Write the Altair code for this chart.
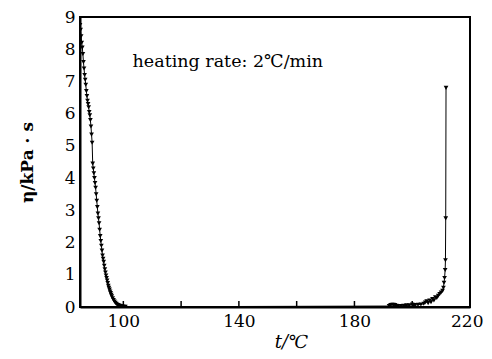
import altair as alt
import pandas as pd

# left branch (viscosity drop while heating)
t_left = [85.0, 85.2, 85.4, 85.6, 85.8, 86.0, 86.2, 86.4, 86.6, 86.8, 87.0, 87.2, 87.4, 87.6, 87.8,
          88.0, 88.2, 88.4, 88.6, 88.8, 89.0, 89.2, 89.4, 89.6, 89.8, 90.0, 90.2, 90.4, 90.6, 90.8,
          91.0, 91.2, 91.4, 91.6, 91.8, 92.0, 92.2, 92.4, 92.6, 92.8, 93.0, 93.2, 93.4, 93.6, 93.8,
          94.0, 94.2, 94.4, 94.6, 94.8, 95.0, 95.2, 95.4, 95.6, 95.8, 96.0, 96.3, 96.6, 96.9, 97.2,
          97.5, 97.8, 98.1, 98.4, 98.7, 99.0, 99.3, 99.6, 99.9, 100.3, 100.7]
v_left = [8.75, 8.6, 8.4, 8.2, 8.05, 7.85, 7.6, 7.4, 7.2, 7.05, 6.9, 6.7, 6.55, 6.4, 6.3,
          6.2, 6.05, 5.95, 5.8, 5.6, 5.35, 5.1, 4.45, 4.3, 4.15, 4.0, 3.85, 3.7, 3.5, 3.3,
          3.1, 2.9, 2.75, 2.6, 2.4, 2.2, 2.05, 1.9, 1.75, 1.6, 1.5, 1.4, 1.28, 1.17, 1.07,
          0.98, 0.9, 0.82, 0.74, 0.66, 0.6, 0.54, 0.48, 0.43, 0.38, 0.33, 0.27, 0.22, 0.17, 0.13,
          0.1, 0.08, 0.06, 0.045, 0.035, 0.025, 0.02, 0.015, 0.01, 0.008, 0.005]

# right branch (curing rise)
t_right = [192.0, 192.5, 193.0, 193.5, 194.0, 194.5, 195.0, 196.0, 197.0, 198.0, 199.0, 200.0,
           200.5, 201.0, 202.0, 203.0, 204.0, 204.5, 205.0, 205.5, 206.0, 206.5, 207.0, 207.5,
           208.0, 208.5, 209.0, 209.5, 210.0, 210.5, 210.8, 211.0, 211.2, 211.4, 211.5, 211.6, 211.7]
v_right = [0.03, 0.06, 0.07, 0.07, 0.06, 0.04, 0.03, 0.03, 0.04, 0.05, 0.05, 0.08,
           0.05, 0.06, 0.07, 0.08, 0.1, 0.14, 0.18, 0.12, 0.2, 0.15, 0.25, 0.2,
           0.3, 0.28, 0.35, 0.4, 0.45, 0.5, 0.6, 0.75, 0.9, 1.15, 1.45, 2.75, 6.8]

x_ticks = [100, 120, 140, 160, 180, 200, 220]
x_labels = [100, 140, 180, 220]
y_ticks = [0, 1, 2, 3, 4, 5, 6, 7, 8, 9]

df = pd.DataFrame({"t": t_left + t_right, "eta": v_left + v_right})
ticks_df = pd.DataFrame({"t": x_ticks})
note_df = pd.DataFrame({"t": [103.2], "eta": [7.6], "label": ["heating rate: 2℃/min"]})

W, H = 390, 290
FONT = "DejaVu Serif"

x_scale = alt.Scale(domain=[85, 220], nice=False, zero=False)
y_scale = alt.Scale(domain=[0, 9], nice=False)

label_expr = "indexof([" + ",".join(str(v) for v in x_labels) + "], datum.value) >= 0 ? datum.label : ''"

x_axis = alt.Axis(values=x_ticks, labelExpr=label_expr, ticks=False, title="t/℃",
                  titleFontStyle="italic", titleFontWeight="normal", titleFontSize=18,
                  titleX=211, titleY=40, titleBaseline="alphabetic",
                  labelPadding=6, labelFontSize=17, labelFlush=True, labelFlushOffset=13,
                  labelOverlap=False, grid=False)
y_axis = alt.Axis(values=y_ticks, ticks=False, title="η/kPa · s", titleFontSize=17,
                  titleFontWeight="bold", titlePadding=28, labelPadding=5,
                  labelFontSize=17, labelFlush=False, labelOverlap=False, grid=False)

X = alt.X("t:Q", scale=x_scale, axis=x_axis)
Y = alt.Y("eta:Q", scale=y_scale, axis=y_axis)

base = alt.Chart(df).encode(x=X, y=Y)

line = base.mark_line(color="black", strokeWidth=1, clip=True)

pts = base.mark_point(shape="triangle-down", filled=True, color="black", size=22,
                      opacity=1, clip=True)

tick_marks = alt.Chart(ticks_df).mark_rule(color="black", strokeWidth=1.5).encode(
    x=X,
    y=alt.value(H),
    y2=alt.value(H - 6),
)

note = alt.Chart(note_df).mark_text(align="left", baseline="middle", font=FONT,
                                    fontSize=17.5, color="black").encode(
    x=X, y=Y, text="label:N")

chart = alt.layer(line, pts, tick_marks, note).properties(
    width=W, height=H,
    autosize=alt.AutoSizeParams(type="none"),
    padding={"left": 72, "top": 9, "right": 14, "bottom": 44},
).configure_view(stroke="black", strokeWidth=2).configure_axis(
    labelFont=FONT, titleFont=FONT, labelColor="black", titleColor="black",
    domainColor="black", domainWidth=2,
)

chart.save("out.html", embed_options={"renderer": "svg", "actions": False})
